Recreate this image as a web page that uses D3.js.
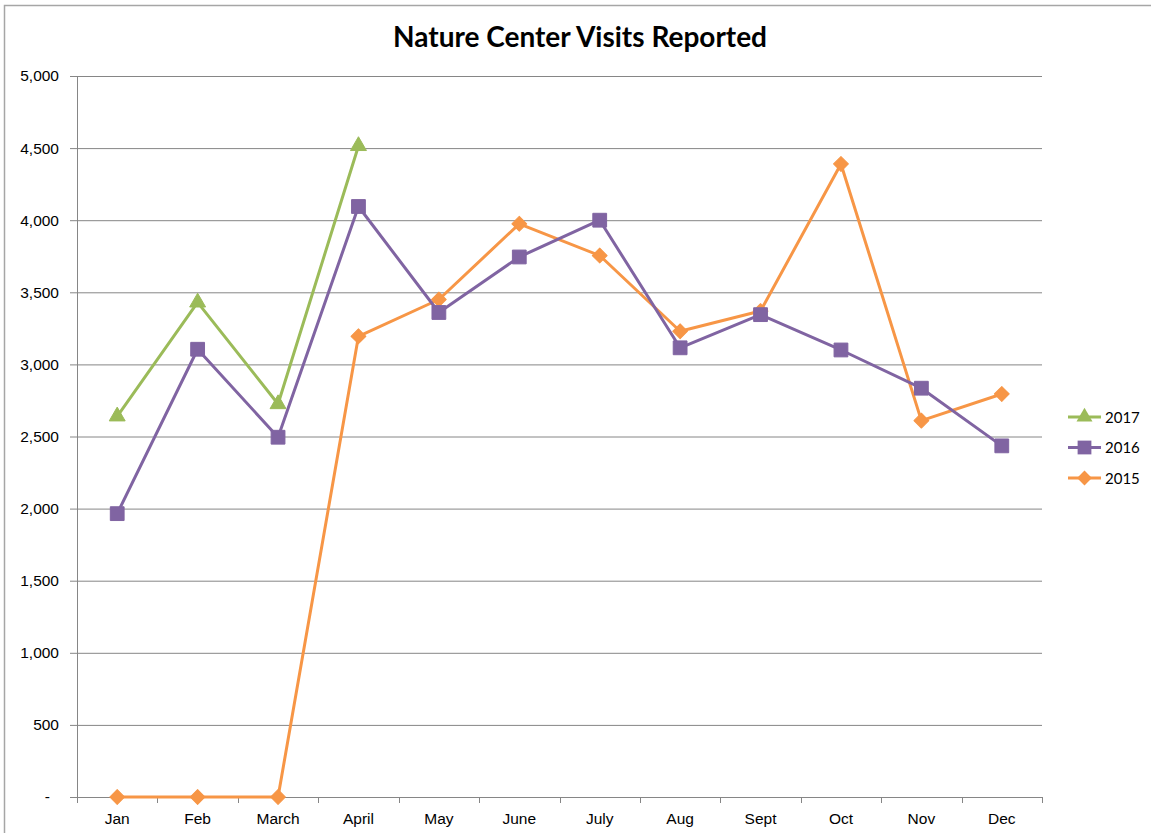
<!DOCTYPE html>
<html>
<head>
<meta charset="utf-8">
<script src="https://cdn.jsdelivr.net/npm/d3@7"></script>
<style>
  body { margin: 0; background: #fff; }
  svg { font-family: Lato, "Open Sans", sans-serif; }
</style>
</head>
<body>
<svg id="drawing_region"></svg>
<script>
const months = ["Jan", "Feb", "March", "April", "May", "June", "July", "Aug", "Sept", "Oct", "Nov", "Dec"];
const visits2017 = [2640, 3430, 2725, 4515];
const visits2016 = [1965, 3105, 2495, 4095, 3360, 3745, 4000, 3115, 3345, 3100, 2835, 2435];
const visits2015 = [0, 0, 0, 3195, 3450, 3975, 3755, 3230, 3370, 4390, 2610, 2795];
const yTicks = [0, 500, 1000, 1500, 2000, 2500, 3000, 3500, 4000, 4500, 5000];

const series = [
    { name: "2017", values: visits2017, color: "#9BBB59", marker: "triangle" },
    { name: "2016", values: visits2016, color: "#8064A2", marker: "square" },
    { name: "2015", values: visits2015, color: "#F79646", marker: "diamond" }
];

const width = 1151, height = 833;
const margin = { top: 76, right: 109, bottom: 36, left: 77 };
const innerW = width - margin.left - margin.right;
const innerH = height - margin.top - margin.bottom;

const svg = d3.select("#drawing_region")
    .attr("width", width)
    .attr("height", height);

// chart frame
svg.append("rect")
    .attr("x", 4.5).attr("y", 5.5)
    .attr("width", width + 10).attr("height", height + 10)
    .attr("fill", "none")
    .attr("stroke", "#a6a6a6")
    .attr("stroke-width", 1.5);

const chart = svg.append("g")
    .attr("transform", `translate(${margin.left}, ${margin.top})`);

const x = d3.scaleBand().domain(months).range([0, innerW]);
const y = d3.scaleLinear().domain([0, 5000]).range([innerH, 0]);

// gridlines
chart.selectAll(".grid")
    .data(yTicks.filter(d => d > 0))
    .enter()
    .append("line")
    .attr("x1", 0).attr("x2", innerW)
    .attr("y1", d => y(d) + 0.5).attr("y2", d => y(d) + 0.5)
    .attr("stroke", "#868686");

// y axis
const yAxis = chart.append("g")
    .call(d3.axisLeft(y).tickValues(yTicks).tickSize(7).tickPadding(11)
        .tickFormat(d => d === 0 ? "-" : d3.format(",")(d)));
yAxis.select(".domain").attr("stroke", "#868686");
yAxis.selectAll(".tick line").attr("stroke", "#868686");
yAxis.selectAll("text").attr("font-size", 15.5).attr("fill", "#000");
yAxis.selectAll(".tick").filter(d => d === 0).select("text").attr("dx", -9);

// x axis
const xAxis = chart.append("g")
    .attr("transform", `translate(0, ${innerH})`)
    .call(d3.axisBottom(x).tickSize(0).tickPadding(16));
xAxis.select(".domain").attr("stroke", "#868686");
xAxis.selectAll("text").attr("font-size", 15.5).attr("fill", "#000");
chart.append("g").selectAll("line")
    .data(months.concat(["end"]))
    .enter()
    .append("line")
    .attr("x1", (d, i) => Math.round(i * x.bandwidth()) + 0.5)
    .attr("x2", (d, i) => Math.round(i * x.bandwidth()) + 0.5)
    .attr("y1", innerH).attr("y2", innerH + 6)
    .attr("stroke", "#868686");

const cx = (d, i) => x(months[i]) + x.bandwidth() / 2;

const symbols = {
    triangle: d3.symbol().type(d3.symbolTriangle).size(110),
    square: d3.symbol().type(d3.symbolSquare).size(190),
    diamond: d3.symbol().type(d3.symbolSquare).size(110)
};

const line = d3.line()
    .x(cx)
    .y(d => y(d));

series.slice().reverse().forEach(s => {
    const g = chart.append("g");
    g.append("path")
        .datum(s.values)
        .attr("d", line)
        .attr("fill", "none")
        .attr("stroke", s.color)
        .attr("stroke-width", 3)
        .attr("stroke-linejoin", "round");
    g.selectAll(".pt")
        .data(s.values)
        .enter()
        .append("path")
        .attr("d", symbols[s.marker])
        .attr("transform", (d, i) => {
            let t = `translate(${cx(d, i)}, ${y(d)})`;
            if (s.marker === "diamond") t += " rotate(45)";
            return t;
        })
        .attr("fill", s.color)
        .attr("stroke", s.color)
        .attr("stroke-width", 1)
        .attr("stroke-linejoin", "round");
});

// legend
const legend = svg.append("g")
    .attr("transform", "translate(1068, 417)");
series.forEach((s, i) => {
    const row = legend.append("g").attr("transform", `translate(0, ${i * 30.5})`);
    row.append("line")
        .attr("x1", 0).attr("x2", 33)
        .attr("stroke", s.color).attr("stroke-width", 3);
    row.append("path")
        .attr("d", symbols[s.marker])
        .attr("transform", "translate(16.5, 0)" + (s.marker === "diamond" ? " rotate(45)" : ""))
        .attr("fill", s.color);
    row.append("text")
        .attr("x", 37).attr("y", 5.5)
        .attr("font-size", 15)
        .text(s.name);
});

// title
svg.append("text")
    .attr("x", 580)
    .attr("y", 47)
    .attr("text-anchor", "middle")
    .attr("font-size", "28px")
    .attr("font-weight", 700)
    .text("Nature Center Visits Reported");
</script>
</body>
</html>
